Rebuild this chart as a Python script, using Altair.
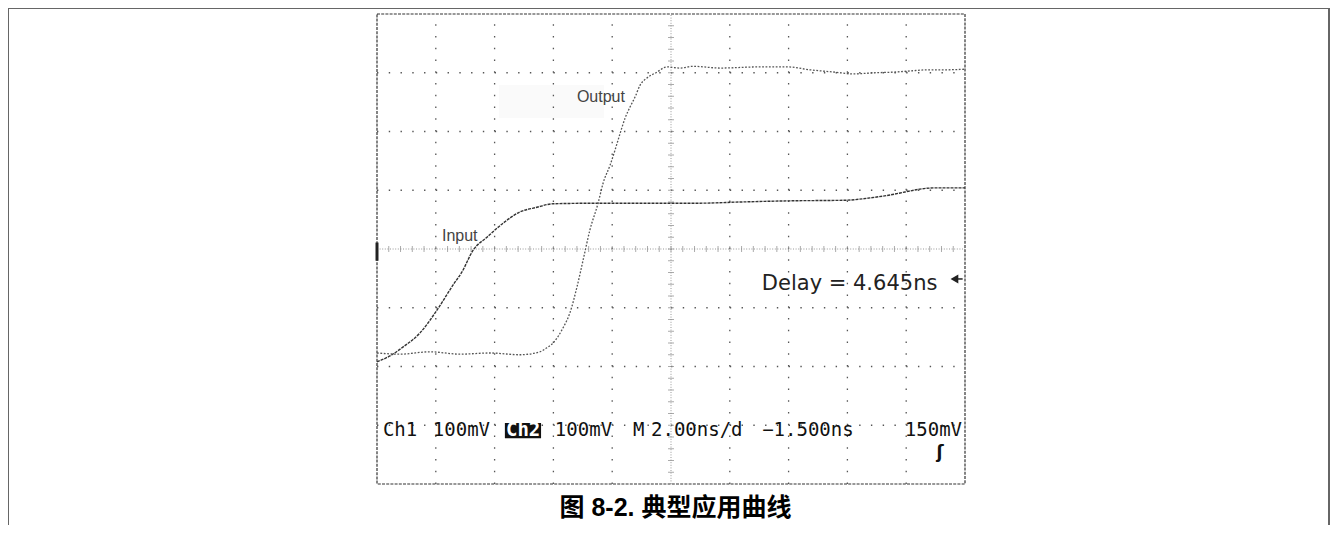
import altair as alt
import pandas as pd

# ---------------- data (time in ns, voltage in mV relative to centre line) ----
INPUT_T = [0.00, 0.44, 0.88, 1.46, 2.04, 2.59, 2.89, 3.27, 3.74, 4.29, 4.86, 5.44,
           5.99, 7.69, 9.97, 10.99, 12.35, 14.05, 15.92, 16.77, 17.45, 17.96,
           18.47, 18.98, 20.00]
INPUT_MV = [-192, -182, -167, -143, -104, -61, -39, -2, 20, 44, 63, 71,
            77, 78, 78, 78, 80, 82, 83, 87, 92, 97, 102, 104, 104]

OUTPUT_T = [0.00, 0.78, 1.80, 2.82, 3.84, 4.86, 5.54, 5.78, 5.99, 6.33, 6.56, 6.80,
            7.01, 7.24, 7.52, 7.69, 7.93, 8.10, 8.27, 8.44, 8.61, 8.78, 8.95, 9.18,
            9.52, 9.86, 10.31, 10.75, 11.67, 13.03, 13.95, 14.73, 15.58, 16.19,
            16.94, 17.55, 18.13, 18.71, 19.32, 20.00]
OUTPUT_MV = [-177, -179, -175, -179, -177, -180, -175, -168, -160, -134, -109, -65,
             -19, 32, 78, 112, 143, 169, 197, 223, 242, 259, 279, 291,
             301, 310, 308, 311, 308, 310, 310, 305, 301, 298,
             300, 301, 303, 305, 305, 306]

GRID_T = [2, 4, 6, 8, 12, 14, 16, 18]
GRID_MV = [-300, -200, -100, 100, 200, 300]
MINOR_T = [round(i * 0.4, 2) for i in range(1, 50)]
MINOR_MV = [i * 20 - 400 for i in range(1, 40)]

BOTTOM_TEXT = ["Ch1", "100mV", "100mV", "M", "2.00ns/d", "\u22121.500ns"]
BOTTOM_T = [0.20, 1.90, 6.05, 8.71, 9.32, 13.10]

CAPTION = "图 8-2. 典型应用曲线"

W, H = 1322, 517
XS = alt.Scale(domain=[0, 20], range=[369, 957], nice=False, zero=False)
YS = alt.Scale(domain=[-400, 400], range=[476, 6], nice=False, zero=False)


def X(f):
    return alt.X(f, type="quantitative", scale=XS, axis=None)


def X2(f):
    return alt.X2(f)


def Y(f):
    return alt.Y(f, type="quantitative", scale=YS, axis=None)


one = pd.DataFrame({"a": [0]})

# outer frame of the figure
frame = alt.Chart(one).mark_rect(fillOpacity=0, stroke="#666", strokeWidth=2).encode(
    x=alt.value(0), x2=alt.value(1321), y=alt.value(0), y2=alt.value(540))

# faint box behind "Output"
bg = alt.Chart(pd.DataFrame({"t0": [4.15], "t1": [7.72], "m0": [223], "m1": [279]})).mark_rect(
    fill="#fafafa").encode(x=X("t0"), x2=X2("t1"), y=Y("m0"), y2=alt.Y2("m1"))

# graticule
vgrid = alt.Chart(pd.DataFrame({"t": GRID_T, "m0": -400, "m1": 400})).mark_rule(
    color="#555", strokeWidth=1.3, strokeDash=[1.4, 10.35]).encode(
    x=X("t"), y=Y("m0"), y2=alt.Y2("m1"))
hgrid = alt.Chart(pd.DataFrame({"m": GRID_MV, "t0": 0, "t1": 20})).mark_rule(
    color="#555", strokeWidth=1.3, strokeDash=[1.4, 10.36]).encode(
    y=Y("m"), x=X("t0"), x2=X2("t1"))
vcent = alt.Chart(pd.DataFrame({"t": [10], "m0": -400, "m1": 400})).mark_rule(
    color="#999", strokeWidth=1, strokeDash=[1, 1.6]).encode(
    x=X("t"), y=Y("m0"), y2=alt.Y2("m1"))
hcent = alt.Chart(pd.DataFrame({"m": [0], "t0": 0, "t1": 20})).mark_rule(
    color="#999", strokeWidth=1, strokeDash=[1, 1.6]).encode(
    y=Y("m"), x=X("t0"), x2=X2("t1"))
hticks = alt.Chart(pd.DataFrame({"t": MINOR_T, "m": 0})).mark_tick(
    orient="vertical", color="#888", size=6, thickness=1).encode(x=X("t"), y=Y("m"))
vticks = alt.Chart(pd.DataFrame({"t": 10, "m": MINOR_MV})).mark_tick(
    orient="horizontal", color="#888", size=6, thickness=1).encode(x=X("t"), y=Y("m"))

box = alt.Chart(pd.DataFrame({"t0": [0], "t1": [20], "m0": [-400], "m1": [400]})).mark_rect(
    fillOpacity=0, stroke="#333", strokeWidth=1.2, strokeDash=[3, 1.2]).encode(
    x=X("t0"), x2=X2("t1"), y=Y("m0"), y2=alt.Y2("m1"))

marker = alt.Chart(pd.DataFrame({"t": [0], "m0": [-20], "m1": [11]})).mark_rule(
    color="#222", strokeWidth=3).encode(x=X("t"), y=Y("m0"), y2=alt.Y2("m1"))

# traces
inp = alt.Chart(pd.DataFrame({"t": INPUT_T, "mv": INPUT_MV})).mark_line(
    color="#333", strokeWidth=1.4, strokeDash=[3, 1], interpolate="monotone").encode(
    x=X("t"), y=Y("mv"))
outp = alt.Chart(pd.DataFrame({"t": OUTPUT_T, "mv": OUTPUT_MV})).mark_line(
    color="#555", strokeWidth=1.3, strokeDash=[1.8, 1.6], interpolate="monotone").encode(
    x=X("t"), y=Y("mv"))

# labels
lbl = alt.Chart(pd.DataFrame({"t": [6.80, 2.21], "mv": [250, 13.6], "s": ["Output", "Input"]})).mark_text(
    font="Liberation Sans", fontSize=16, color="#444", align="left", baseline="alphabetic").encode(
    x=X("t"), y=Y("mv"), text="s:N")
delay = alt.Chart(pd.DataFrame({"t": [13.09], "mv": [-70], "s": ["Delay = 4.645ns"]})).mark_text(
    font="DejaVu Sans", fontSize=21, color="#222", align="left", baseline="alphabetic").encode(
    x=X("t"), y=Y("mv"), text="s:N")
arrow = alt.Chart(pd.DataFrame({"t": [19.64], "mv": [-51]})).mark_point(
    shape="triangle-left", filled=True, size=80, color="#222", opacity=1).encode(x=X("t"), y=Y("mv"))
tail = alt.Chart(pd.DataFrame({"t0": [19.7], "t1": [19.92], "mv": [-51]})).mark_rule(
    color="#222", strokeWidth=1.5).encode(x=X("t0"), x2=X2("t1"), y=Y("mv"))

# bottom readout
readout = alt.Chart(pd.DataFrame({"t": BOTTOM_T, "mv": -318, "s": BOTTOM_TEXT})).mark_text(
    font="DejaVu Sans Mono", fontSize=19, color="#111", align="left", baseline="alphabetic").encode(
    x=X("t"), y=Y("mv"), text="s:N")
readout_r = alt.Chart(pd.DataFrame({"t": [19.90], "mv": [-318], "s": ["150mV"]})).mark_text(
    font="DejaVu Sans Mono", fontSize=19, color="#111", align="right", baseline="alphabetic").encode(
    x=X("t"), y=Y("mv"), text="s:N")
ch2box = alt.Chart(pd.DataFrame({"t0": [4.35], "t1": [5.58], "m0": [-322], "m1": [-296]})).mark_rect(
    fill="#111").encode(x=X("t0"), x2=X2("t1"), y=Y("m0"), y2=alt.Y2("m1"))
ch2 = alt.Chart(pd.DataFrame({"t": [4.97], "mv": [-318], "s": ["Ch2"]})).mark_text(
    font="DejaVu Sans Mono", fontSize=19, fontWeight="bold", color="white", align="center",
    baseline="alphabetic").encode(x=X("t"), y=Y("mv"), text="s:N")
trig = alt.Chart(pd.DataFrame({"t": [19.15], "mv": [-356], "s": ["\u0283"]})).mark_text(
    font="DejaVu Sans", fontSize=17, fontWeight="bold", color="#111", align="center",
    baseline="alphabetic").encode(x=X("t"), y=Y("mv"), text="s:N")

caption = alt.Chart(one).mark_text(
    text=CAPTION, font="Liberation Sans, Noto Sans CJK SC", fontSize=25, fontWeight="bold",
    color="#000", align="center", baseline="middle").encode(x=alt.value(667.5), y=alt.value(500))

chart = alt.layer(
    frame, bg, vgrid, hgrid, vcent, hcent, hticks, vticks, box, marker,
    inp, outp, lbl, delay, arrow, tail, ch2box, readout, readout_r, ch2, trig, caption
).properties(
    width=W, height=H, padding=0, autosize=alt.AutoSizeParams(type="none")
).configure_view(stroke=None)

chart.save("out.html", embed_options={"renderer": "svg", "actions": False})
